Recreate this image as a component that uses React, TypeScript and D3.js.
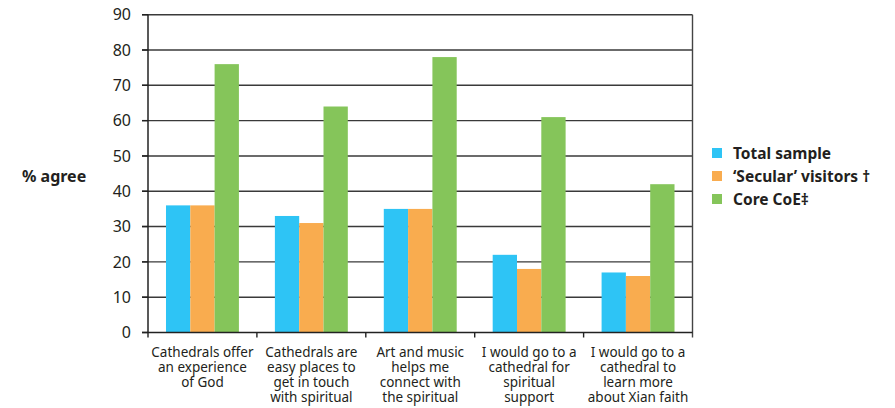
import React from "react";
import * as d3 from "d3";

const categories: string[][] = [
  ["Cathedrals offer", "an experience", "of God"],
  ["Cathedrals are", "easy places to", "get in touch", "with spiritual"],
  ["Art and music", "helps me", "connect with", "the spiritual"],
  ["I would go to a", "cathedral for", "spiritual", "support"],
  ["I would go to a", "cathedral to", "learn more", "about Xian faith"],
];
const seriesNames = ["Total sample", "\u2018Secular\u2019 visitors \u2020", "Core CoE\u2021"];
const totalSample = [36, 33, 35, 22, 17];
const secularVisitors = [36, 31, 35, 18, 16];
const coreCoE = [76, 64, 78, 61, 42];
const yTicks = [0, 10, 20, 30, 40, 50, 60, 70, 80, 90];
const colors = ["#2EC4F5", "#F9AC4F", "#85C55A"];

const W = 895;
const H = 408;
const FONT = "'Noto Sans', 'Open Sans', sans-serif";

export default function App() {
  const left = 148;
  const right = 692.5;
  const top = 14.7;
  const bottom = 332.5;
  const seriesValues = [totalSample, secularVisitors, coreCoE];

  const x0 = d3
    .scaleBand<number>()
    .domain(categories.map((_, i) => i))
    .range([left, right])
    .padding(0);
  const x1 = d3
    .scaleBand<number>()
    .domain([0, 1, 2])
    .range([0, x0.bandwidth()])
    .paddingInner(0)
    .paddingOuter(0.74);
  const y = d3.scaleLinear().domain([0, 90]).range([bottom, top]);

  return (
    <svg
      width={W}
      height={H}
      style={{ position: "absolute", left: 0, top: 0, display: "block" }}
      fontFamily={FONT}
    >
      <rect width={W} height={H} fill="#fff" />
      {yTicks
        .filter((t) => t > 0)
        .map((t) => (
          <line
            key={"g" + t}
            x1={left - 6}
            x2={right}
            y1={y(t)}
            y2={y(t)}
            stroke="#3a3a3a"
            strokeWidth={1.4}
          />
        ))}
      {categories.map((_, ci) =>
        seriesValues.map((vals, si) => (
          <rect
            key={`b${ci}-${si}`}
            x={(x0(ci) as number) + (x1(si) as number)}
            y={y(vals[ci])}
            width={x1.bandwidth()}
            height={y(0) - y(vals[ci])}
            fill={colors[si]}
          />
        ))
      )}
      <line x1={left} x2={left} y1={top} y2={bottom} stroke="#222" strokeWidth={1.5} />
      <line x1={right} x2={right} y1={top} y2={bottom + 5} stroke="#444" strokeWidth={1.4} />
      <line x1={left - 6} x2={right} y1={bottom} y2={bottom} stroke="#222" strokeWidth={1.5} />
      {yTicks.map((t) => (
        <g key={"t" + t}>
          <line x1={left - 6} x2={left} y1={y(t)} y2={y(t)} stroke="#222" strokeWidth={1.4} />
          <text
            x={131}
            y={y(t)}
            dy="0.36em"
            textAnchor="end"
            fontSize={16}
            fill="#231f20"
          >
            {t}
          </text>
        </g>
      ))}
      {categories.map((_, ci) => (
        <line
          key={"ct" + ci}
          x1={x0(ci) as number}
          x2={x0(ci) as number}
          y1={bottom}
          y2={bottom + 5}
          stroke="#222"
          strokeWidth={1.4}
        />
      ))}
      {categories.map((lines, ci) =>
        lines.map((l, li) => (
          <text
            key={`cl${ci}-${li}`}
            x={(x0(ci) as number) + x0.bandwidth() / 2}
            y={357 + li * 15}
            textAnchor="middle"
            fontSize={13.5}
            fill="#231f20"
          >
            {l}
          </text>
        ))
      )}
      <text x={22} y={176} dy="0.35em" fontSize={16} fontWeight="bold" fill="#231f20">
        % agree
      </text>
      {seriesNames.map((n, i) => (
        <g key={"l" + i} transform={`translate(712, ${153 + i * 23})`}>
          <rect x={0} y={-5} width={10} height={10} fill={colors[i]} />
          <text x={21} y={0} dy="0.36em" fontSize={15.5} fontWeight="bold" fill="#231f20">
            {n}
          </text>
        </g>
      ))}
    </svg>
  );
}
